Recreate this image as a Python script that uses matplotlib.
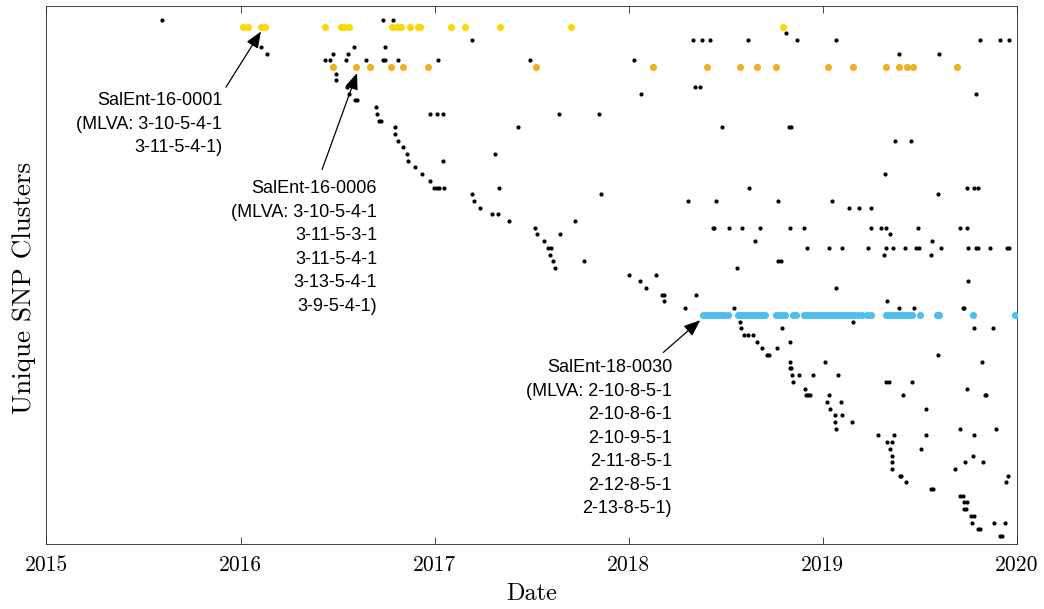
import numpy as np
import matplotlib.pyplot as plt

# cluster rows (0 = top) and sampling dates (decimal years)
black_rows = [
    0, 0, 0,
    2,
    3, 3, 3, 3, 3, 3, 3, 3, 3, 3, 3,
    4, 4, 4,
    5, 5, 5, 5, 5,
    6, 6, 6, 6, 6, 6, 6, 6, 6, 6,
    8, 9,
    10, 10, 10,
    11, 11, 11,
    12, 12, 13,
    14, 14, 14, 14, 14, 14,
    15, 15,
    16, 16, 16, 16, 16,
    17, 18, 18, 18, 19, 20, 20, 21, 21, 22, 23, 23, 24,
    25, 25, 25, 25, 25, 25, 25, 25, 25,
    26, 26, 26,
    27, 27, 27, 27, 27,
    28, 28, 28, 28,
    29, 29, 30, 30,
    31, 31, 31, 31, 31, 31, 31, 31, 31, 31, 31, 31, 31, 31,
    32, 32, 32, 33, 33, 33,
    34, 34, 34, 34, 34, 34, 34, 34, 34, 34, 34, 34, 34, 34, 34, 34, 34, 34,
    35, 35, 35,
    36, 36, 36, 36,
    37, 37, 38, 38, 39, 39, 40, 40,
    41, 41, 41, 42, 42,
    43, 43, 43, 43, 43, 43,
    45, 45, 46, 46, 46, 46,
    47, 47, 47, 48, 48, 49, 49,
    50, 50, 50, 51, 51, 51, 52, 52,
    53, 53, 53, 53, 54, 54, 54, 54,
    55, 55, 56, 56, 56, 56, 56, 56, 56,
    57, 57, 58, 58, 59, 59, 60, 60, 61, 61, 61,
    62, 62, 62, 62, 63, 63, 64, 64, 65, 65,
    66, 66, 66, 67, 67, 68, 68, 68, 69, 69,
    70, 70, 71, 71, 72, 72, 73, 73, 74, 74,
    75, 75, 75, 76, 76, 77, 77,
]
black_dates = [
    2015.594, 2016.735, 2016.787,
    2018.811,
    2016.079, 2017.192, 2018.331, 2018.376, 2018.418, 2018.616, 2018.867, 2019.067, 2019.809, 2019.912, 2019.959,
    2016.105, 2016.586, 2016.744,
    2016.137, 2016.478, 2016.552, 2019.394, 2019.597,
    2016.435, 2016.461, 2016.543, 2016.646, 2016.732, 2016.744, 2016.809, 2017.015, 2017.491, 2018.025,
    2016.490, 2016.490,
    2016.547, 2018.343, 2018.365,
    2016.558, 2018.061, 2019.787,
    2016.592, 2016.602, 2016.696,
    2016.701, 2016.976, 2017.010, 2017.044, 2017.640, 2017.847,
    2016.712, 2016.722,
    2016.795, 2017.428, 2018.482, 2018.826, 2018.834,
    2016.795, 2016.812, 2019.371, 2019.454, 2016.835, 2016.856, 2017.312, 2016.864, 2017.044, 2016.898, 2016.933, 2019.320, 2016.976,
    2016.998, 2017.010, 2017.024, 2017.049, 2017.333, 2018.619, 2019.742, 2019.777, 2019.799,
    2017.194, 2017.858, 2019.591,
    2017.201, 2018.307, 2018.448, 2018.767, 2019.047,
    2017.232, 2019.134, 2019.184, 2019.246,
    2017.294, 2017.326, 2017.381, 2017.721,
    2017.517, 2018.432, 2018.440, 2018.516, 2018.583, 2018.674, 2018.830, 2018.901, 2019.248, 2019.299, 2019.323, 2019.490, 2019.706, 2019.741,
    2017.529, 2017.644, 2019.344, 2017.565, 2018.649, 2019.562,
    2017.585, 2017.597, 2018.918, 2019.030, 2019.097, 2019.231, 2019.323, 2019.360, 2019.421, 2019.480, 2019.497, 2019.607, 2019.748, 2019.787, 2019.799, 2019.859, 2019.950, 2019.960,
    2017.592, 2019.316, 2019.557,
    2017.608, 2017.771, 2018.770, 2018.784,
    2017.620, 2018.559, 2017.999, 2018.140, 2018.056, 2019.749, 2018.089, 2019.069,
    2018.172, 2018.184, 2018.348, 2018.180, 2019.329,
    2018.288, 2018.542, 2019.394, 2019.469, 2019.720, 2019.728,
    2018.571, 2019.155, 2018.580, 2018.789, 2019.778, 2019.876,
    2018.594, 2018.614, 2018.638, 2018.659, 2018.829, 2018.686, 2018.762,
    2018.710, 2018.721, 2019.591, 2018.829, 2019.011, 2019.820, 2018.832, 2018.838,
    2018.839, 2018.875, 2018.949, 2019.078, 2018.844, 2019.323, 2019.340, 2019.458,
    2018.906, 2019.741, 2018.911, 2018.925, 2018.933, 2019.031, 2019.413, 2019.834, 2019.840,
    2019.020, 2019.092, 2019.038, 2019.530, 2019.061, 2019.098, 2019.064, 2019.148, 2019.067, 2019.705, 2019.894,
    2019.282, 2019.366, 2019.533, 2019.778, 2019.330, 2019.356, 2019.347, 2019.504, 2019.358, 2019.772,
    2019.358, 2019.732, 2019.823, 2019.358, 2019.681, 2019.397, 2019.404, 2019.954, 2019.430, 2019.943,
    2019.558, 2019.569, 2019.708, 2019.720, 2019.727, 2019.741, 2019.727, 2019.736, 2019.761, 2019.777,
    2019.767, 2019.880, 2019.938, 2019.799, 2019.811, 2019.912, 2019.923,
]

# highlighted clusters
row_16_0001 = 1
dates_16_0001 = [2016.014, 2016.037, 2016.105, 2016.126, 2016.435, 2016.517, 2016.533, 2016.559,
                 2016.782, 2016.804, 2016.825, 2016.873, 2016.912, 2016.924, 2017.082, 2017.156,
                 2017.336, 2017.702, 2018.794]
row_16_0006 = 7
dates_16_0006 = [2016.478, 2016.595, 2016.667, 2016.775, 2016.838, 2016.967, 2017.522, 2018.123,
                 2018.401, 2018.574, 2018.659, 2018.758, 2019.028, 2019.157, 2019.325, 2019.392,
                 2019.433, 2019.466, 2019.691]
row_18_0030 = 44
dates_18_0030 = [2018.385, 2018.40, 2018.415, 2018.43, 2018.445, 2018.46, 2018.475, 2018.49, 2018.51,
                 2018.565, 2018.58, 2018.595, 2018.61, 2018.625, 2018.64, 2018.655, 2018.67, 2018.685, 2018.70,
                 2018.76, 2018.775, 2018.79, 2018.805, 2018.845, 2018.86,
                 2018.905, 2018.92, 2018.935, 2018.95, 2018.965, 2018.98, 2018.995, 2019.01, 2019.025,
                 2019.04, 2019.055, 2019.07, 2019.085, 2019.10, 2019.115, 2019.13, 2019.145, 2019.16,
                 2019.18, 2019.20, 2019.225, 2019.25,
                 2019.325, 2019.34, 2019.355, 2019.37, 2019.385, 2019.40, 2019.415, 2019.43, 2019.445, 2019.46,
                 2019.50, 2019.59, 2019.60, 2019.775, 2019.99]

years = [2015, 2016, 2017, 2018, 2019, 2020]

labels = [
    "SalEnt-16-0001\n(MLVA: 3-10-5-4-1\n3-11-5-4-1)",
    "SalEnt-16-0006\n(MLVA: 3-10-5-4-1\n3-11-5-3-1\n3-11-5-4-1\n3-13-5-4-1\n3-9-5-4-1)",
    "SalEnt-18-0030\n(MLVA: 2-10-8-5-1\n2-10-8-6-1\n2-10-9-5-1\n2-11-8-5-1\n2-12-8-5-1\n2-13-8-5-1)",
]
# (arrow tip, arrow tail, text top-right) in data units
arrows = [
    ((2016.105, 1.7), (2015.925, 10.0), (2015.905, 10.8)),
    ((2016.600, 7.9), (2016.420, 22.3), (2016.703, 23.9)),
    ((2018.368, 44.8), (2018.178, 49.6), (2018.223, 50.6)),
]

fig = plt.figure(figsize=(10.44, 6.09), dpi=100)
ax = fig.add_axes([0.0445, 0.1067, 0.9296, 0.8834])

ax.scatter(black_dates, black_rows, s=9, c="black", lw=0, zorder=2)
ax.scatter(dates_16_0001, [row_16_0001]*len(dates_16_0001), s=26, c="#FFD700", lw=0, zorder=3)
ax.scatter(dates_16_0006, [row_16_0006]*len(dates_16_0006), s=26, c="#EDB120", lw=0, zorder=3)
ax.scatter(dates_18_0030, [row_18_0030]*len(dates_18_0030), s=26, c="#4DBEEE", lw=0, zorder=3)

for txt, (tip, tail, pos) in zip(labels, arrows):
    ax.annotate("", xy=tip, xytext=tail,
                arrowprops=dict(arrowstyle="-|>,head_length=1.0,head_width=0.4",
                                color="black", lw=0.9, shrinkA=0, shrinkB=0))
    ax.text(pos[0], pos[1], txt, ha="right", va="top", multialignment="right",
            fontsize=13, family="Liberation Sans", linespacing=1.5)

ax.set_xlim(2015, 2020)
ax.set_ylim(78.2, -2.1)
ax.set_xticks(years)
ax.set_xticklabels([str(y) for y in years], family="cmr10", fontsize=15.5)
ax.set_yticks([])
ax.tick_params(axis="x", direction="in", top=True, length=5, width=0.6, color="#262626", pad=8)
for sp in ax.spines.values():
    sp.set_color("#262626")
    sp.set_linewidth(0.6)

ax.set_xlabel("Date", family="cmr10", fontsize=17.5, labelpad=6)
ax.set_ylabel("Unique SNP Clusters", family="cmr10", fontsize=19.5)
ax.yaxis.set_label_coords(-0.011, 0.476)

fig.savefig("out.png", dpi=100)
